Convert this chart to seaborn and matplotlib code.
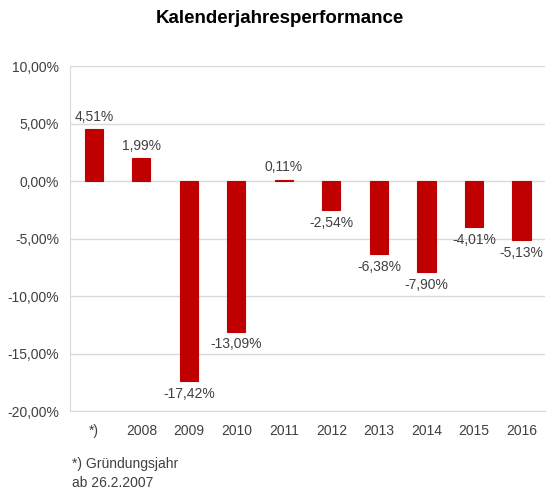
import numpy as np
import pandas as pd
import matplotlib
matplotlib.use("Agg")
import matplotlib.pyplot as plt
import seaborn as sns

# data
years = ["*)", "2008", "2009", "2010", "2011", "2012", "2013", "2014", "2015", "2016"]
performance = [4.51, 1.99, -17.42, -13.09, 0.11, -2.54, -6.38, -7.90, -4.01, -5.13]
y_ticks = [-20, -15, -10, -5, 0, 5, 10]

df = pd.DataFrame({"year": years, "perf": performance})

sns.set_style("white")
plt.rcParams["font.family"] = ["Liberation Sans", "DejaVu Sans"]

fig = plt.figure(figsize=(5.48, 4.93), dpi=100)
ax = fig.add_axes([0.128, 0.166, 0.867, 0.700])

sns.barplot(data=df, x="year", y="perf", color="#C00000", width=0.38,
            saturation=1, linewidth=0.8, edgecolor="#C00000", ax=ax, zorder=3)

def de_pct(v):
    return f"{v:.2f}".replace(".", ",") + "%"

ax.bar_label(ax.containers[0], labels=[de_pct(v) for v in performance],
             padding=4, fontsize=10, color="#404040")

ax.set_ylim(-20, 10)
ax.set_xlim(-0.5, len(years) - 0.5)
ax.set_yticks(y_ticks)
ax.set_yticklabels([de_pct(v) for v in y_ticks])
ax.grid(axis="y", color="#D9D9D9", linewidth=1, zorder=0)
ax.set_axisbelow(True)
ax.set_xlabel("")
ax.set_ylabel("")

for s in ["top", "right"]:
    ax.spines[s].set_visible(False)
ax.spines["left"].set_color("#D9D9D9")
ax.spines["bottom"].set_color("#D9D9D9")
ax.tick_params(axis="y", length=5, color="#D9D9D9", labelsize=10, labelcolor="#404040", pad=3)
ax.tick_params(axis="x", length=0, labelsize=10, labelcolor="#404040", pad=9)

fig.text(0.51, 0.963, "Kalenderjahresperformance", ha="center", va="center",
         fontsize=13.5, fontweight="bold", color="black")
fig.text(0.131, 0.040, "*) Gründungsjahr\nab 26.2.2007", ha="left", va="center",
         fontsize=10, color="#404040", linespacing=1.45)

fig.savefig("out.png", dpi=100)
